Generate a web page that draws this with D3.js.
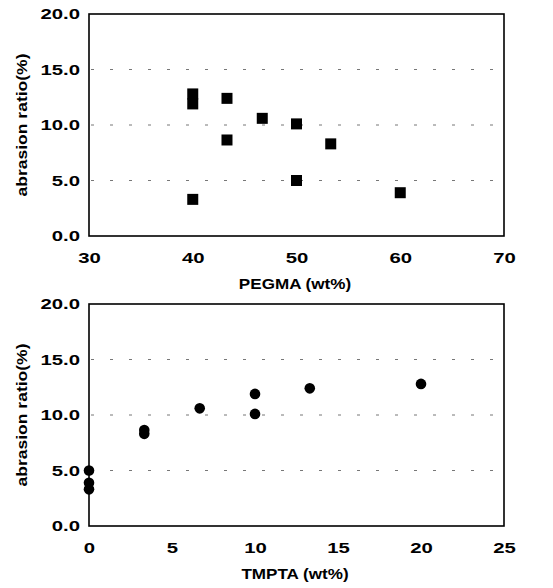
<!DOCTYPE html>
<html>
<head>
<meta charset="utf-8">
<script src="https://cdn.jsdelivr.net/npm/d3@7"></script>
<style>
  body { margin: 0; background: #fff; }
  text { font-family: "Liberation Sans", Arial, sans-serif; font-weight: bold; fill: #000; }
</style>
</head>
<body>
<script>
// values
pegmaX = [40, 40, 40, 43.3, 43.3, 46.7, 50, 50, 53.3, 60];
pegmaY = [12.8, 11.9, 3.3, 12.4, 8.65, 10.6, 10.1, 5.0, 8.3, 3.9];
tmptaX = [0, 0, 0, 3.33, 3.33, 6.67, 10, 10, 13.3, 20];
tmptaY = [5.0, 3.9, 3.3, 8.65, 8.3, 10.6, 11.9, 10.1, 12.4, 12.8];
yTicks = [0, 5, 10, 15, 20];
pegmaTicks = [30, 40, 50, 60, 70];
tmptaTicks = [0, 5, 10, 15, 20, 25];

w = 553;
h = 588;

svg = d3.select('body')
  .append('svg')
  .attr('width', w)
  .attr('height', h);

// the original type is a wide bold face, so stretch each label
function stretch(sel, k) {
  sel.each(function () {
    let len = this.getComputedTextLength();
    d3.select(this)
      .attr('textLength', len * k)
      .attr('lengthAdjust', 'spacingAndGlyphs');
  });
}

function panel(top, xs, ys, xDomain, xTicks, xTitle, marker) {
  let left = 89, right = 504;
  let ptop = top, pbottom = top + 222;

  let xScale = d3.scaleLinear().domain(xDomain).range([left, right]);
  let yScale = d3.scaleLinear().domain([0, 20]).range([pbottom, ptop]);

  let g = svg.append('g');

  // dashed grid
  g.selectAll('line.grid')
    .data([5, 10, 15])
    .enter()
    .append('line')
    .attr('x1', left + 2)
    .attr('x2', right)
    .attr('y1', d => yScale(d))
    .attr('y2', d => yScale(d))
    .attr('stroke', '#777')
    .attr('stroke-width', 1)
    .attr('stroke-dasharray', '3,16');

  // frame
  g.append('rect')
    .attr('x', left)
    .attr('y', ptop)
    .attr('width', right - left)
    .attr('height', pbottom - ptop)
    .attr('fill', 'none')
    .attr('stroke', '#000')
    .attr('stroke-width', 1.6);

  let xAxis = d3.axisBottom(xScale)
    .tickValues(xTicks)
    .tickSize(0)
    .tickPadding(17)
    .tickFormat(d3.format('d'));
  let yAxis = d3.axisLeft(yScale)
    .tickValues(yTicks)
    .tickSize(0)
    .tickPadding(9)
    .tickFormat(d3.format('.1f'));

  let xa = g.append('g')
    .attr('transform', `translate(0, ${pbottom})`)
    .call(xAxis);
  let ya = g.append('g')
    .attr('transform', `translate(${left}, 0)`)
    .call(yAxis);

  [xa, ya].forEach(a => {
    a.select('.domain').remove();
    a.selectAll('text')
      .attr('font-size', 14.5)
      .attr('font-family', '"Liberation Sans", Arial, sans-serif')
      .attr('font-weight', 'bold')
      .attr('fill', '#000')
      .call(stretch, 1.4);
  });

  g.append('text')
    .attr('x', 295)
    .attr('y', pbottom + 53)
    .attr('text-anchor', 'middle')
    .attr('font-size', 14)
    .text(xTitle)
    .call(stretch, 1.22);

  g.append('text')
    .attr('transform', `translate(27, ${(ptop + pbottom) / 2}) rotate(-90)`)
    .attr('text-anchor', 'middle')
    .attr('font-size', 14)
    .text('abrasion ratio(%)')
    .call(stretch, 1.25);

  let pts = xs.map((x, i) => [x, ys[i]]);
  if (marker === 'square') {
    g.selectAll('rect.pt')
      .data(pts)
      .enter()
      .append('rect')
      .attr('x', d => xScale(d[0]) - 5.5)
      .attr('y', d => yScale(d[1]) - 5.5)
      .attr('width', 11)
      .attr('height', 11)
      .attr('fill', '#000');
  } else {
    g.selectAll('circle.pt')
      .data(pts)
      .enter()
      .append('circle')
      .attr('cx', d => xScale(d[0]))
      .attr('cy', d => yScale(d[1]))
      .attr('r', 5.3)
      .attr('fill', '#000');
  }
}

panel(14, pegmaX, pegmaY, [30, 70], pegmaTicks, 'PEGMA (wt%)', 'square');
panel(304, tmptaX, tmptaY, [0, 25], tmptaTicks, 'TMPTA (wt%)', 'circle');
</script>
</body>
</html>
